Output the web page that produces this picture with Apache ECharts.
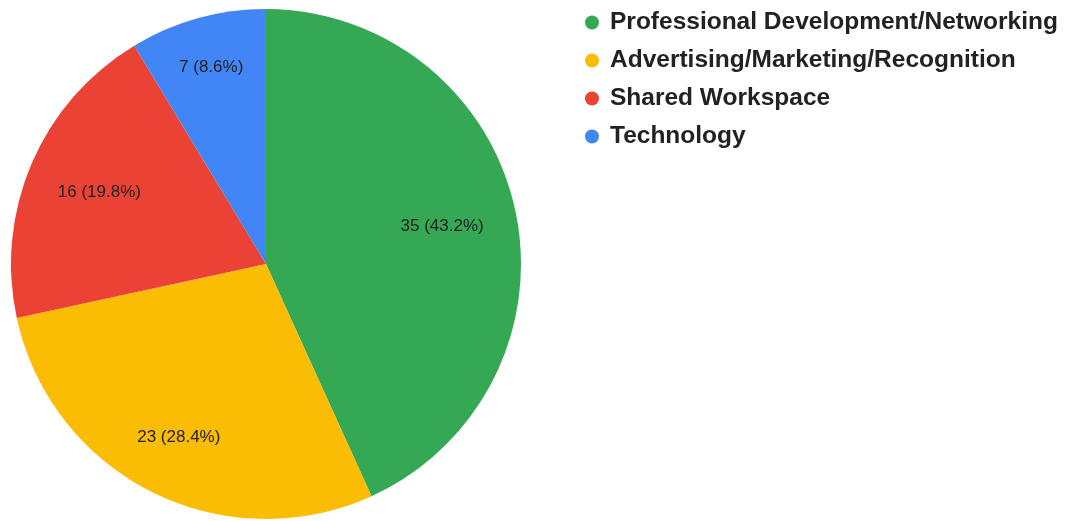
<!DOCTYPE html>
<html>
<head>
<meta charset="utf-8">
<script src="https://cdn.jsdelivr.net/npm/echarts@6/dist/echarts.min.js"></script>
<style>
    html, body { margin: 0; padding: 0; background: #fff; }
    #chart { width: 1076px; height: 521px; }
</style>
</head>
<body>
<div id="chart"></div>
<script>
var categories = ["Professional Development/Networking", "Advertising/Marketing/Recognition", "Shared Workspace", "Technology"];
var values = [35, 23, 16, 7];
var colorList = ['#34A853', '#FBBC04', '#EA4335', '#4285F4'];

// where each slice label sits, as a share of the radius
var labelRatio = [0.695, 0.75, 0.70, 0.79];

var center = [266, 264];
var R = 255;
var total = values.reduce((a, b) => a + b, 0);

var pieData = categories.map((name, i) => {
    return { name: name, value: values[i], itemStyle: { color: colorList[i] } };
});

var series = [{
    name: 'main',
    type: 'pie',
    center: center,
    radius: [0, R],
    startAngle: 90,
    clockwise: true,
    data: pieData,
    label: { show: false },
    labelLine: { show: false },
    emphasis: { disabled: true },
    animation: false
}];

// transparent rings, one per slice, just to place the inside labels
labelRatio.map((k, j) => {
    series.push({
        type: 'pie',
        center: center,
        radius: [(2 * k - 1) * R, R],
        startAngle: 90,
        clockwise: true,
        silent: true,
        animation: false,
        itemStyle: { color: 'rgba(0,0,0,0)' },
        labelLine: { show: false },
        data: categories.map((name, i) => {
            return {
                name: name,
                value: values[i],
                label: { show: i === j }
            };
        }),
        label: {
            position: 'inside',
            color: '#222',
            fontFamily: 'Liberation Sans, Arial, sans-serif',
            fontSize: 17,
            formatter: (p) => {
                return p.value + ' (' + (p.value / total * 100).toFixed(1) + '%)';
            }
        }
    });
});

var chart = echarts.init(document.getElementById('chart'));
chart.setOption({
    animation: false,
    legend: {
        orient: 'vertical',
        left: 580,
        top: 5,
        icon: 'circle',
        itemWidth: 14,
        itemHeight: 14,
        itemGap: 13,
        selectedMode: false,
        data: categories,
        textStyle: {
            color: '#222',
            fontFamily: 'Liberation Sans, Arial, sans-serif',
            fontWeight: 'bold',
            fontSize: 24.5,
            padding: [0, 0, 0, 6]
        }
    },
    series: series
});
</script>
</body>
</html>
